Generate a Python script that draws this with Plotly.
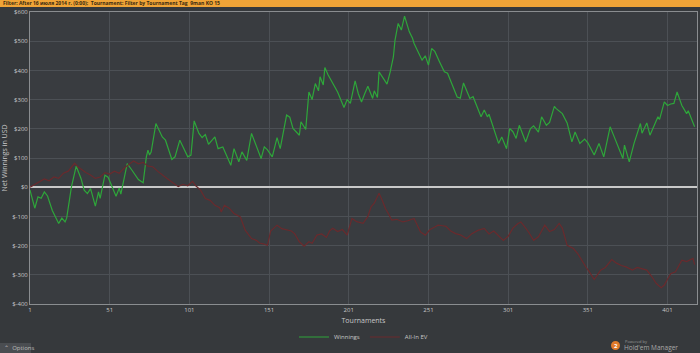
import plotly.graph_objects as go

# ---- data ----
win_t = [1, 4, 6, 8, 10, 12, 15, 19, 21, 23, 24, 27, 30, 33, 35, 37, 39, 42, 44, 45, 48, 50, 55, 57, 58,
         62, 65, 69, 72, 73, 74, 75, 76, 77, 80, 84, 86, 90, 92, 95, 98, 100, 102, 104, 107, 109, 111,
         113, 117, 119, 122, 127, 129, 132, 134, 137, 140, 143, 146, 148, 150, 153, 156, 158, 162, 164,
         166, 170, 171, 174, 176, 178, 180, 182, 183, 185, 186, 188, 194, 198, 200, 202, 205, 207, 209,
         211, 213, 216, 217, 219, 220, 223, 225, 227, 229, 230, 232, 234, 236, 239, 241, 242, 244, 247,
         249, 251, 253, 255, 258, 261, 263, 267, 269, 271, 273, 275, 277, 279, 281, 284, 286, 288, 289,
         295, 297, 300, 302, 304, 306, 308, 312, 315, 317, 320, 322, 325, 327, 330, 331, 335, 338, 341,
         343, 346, 349, 351, 355, 358, 361, 365, 367, 373, 374, 377, 380, 384, 385, 388, 390, 395, 396,
         399, 401, 403, 405, 407, 410, 413, 414, 418]
win_v = [-10, -72, -33, -38, -16, -30, -80, -124, -106, -119, -106, 1, 72, 30, -10, -22, -5, -65, -16, -38,
         41, 34, -31, -3, -24, 81, 58, 26, 15, 64, 104, 127, 110, 120, 218, 172, 161, 95, 104, 161, 127,
         104, 110, 227, 184, 170, 180, 147, 172, 132, 138, 75, 132, 87, 121, 92, 184, 144, 98, 138, 128,
         104, 170, 132, 247, 240, 201, 178, 224, 198, 326, 300, 355, 330, 378, 350, 410, 385, 326, 273,
         300, 287, 364, 320, 292, 320, 346, 304, 330, 307, 395, 370, 353, 395, 446, 503, 561, 538, 586,
         532, 510, 492, 470, 435, 450, 418, 475, 465, 429, 395, 390, 332, 309, 305, 357, 330, 304, 310,
         281, 241, 264, 241, 250, 150, 172, 132, 201, 190, 167, 212, 155, 201, 210, 189, 241, 212, 222,
         277, 270, 252, 220, 155, 189, 150, 165, 152, 110, 150, 104, 207, 180, 98, 144, 87, 150, 218,
         185, 220, 178, 241, 232, 292, 280, 285, 287, 326, 280, 252, 262, 207]

ev_t = [1, 4, 7, 10, 13, 16, 19, 22, 25, 27, 29, 31, 33, 36, 39, 42, 45, 48, 51, 54, 57, 60, 63, 66, 69,
        72, 75, 78, 81, 84, 87, 90, 94, 97, 100, 103, 105, 108, 111, 114, 117, 120, 121, 123, 126, 129,
        133, 136, 140, 143, 145, 148, 150, 152, 154, 156, 159, 162, 165, 167, 170, 173, 176, 178, 181,
        184, 187, 189, 191, 194, 197, 200, 203, 206, 210, 213, 215, 217, 220, 222, 224, 226, 228, 231,
        235, 238, 242, 244, 246, 249, 252, 255, 257, 260, 262, 265, 268, 271, 275, 278, 282, 286, 289,
        292, 295, 298, 301, 304, 307, 309, 312, 314, 317, 320, 322, 324, 327, 330, 333, 335, 338, 342,
        345, 347, 350, 352, 355, 357, 359, 362, 366, 369, 372, 375, 379, 382, 385, 388, 391, 394, 397,
        399, 401, 403, 406, 408, 410, 413, 415, 417, 418]
ev_v = [0, 10, 18, 28, 22, 35, 30, 48, 55, 70, 82, 70, 62, 50, 42, 30, 35, 50, 45, 55, 48, 65, 78, 90, 80,
        85, 72, 70, 55, 41, 30, 18, 2, 10, 5, 20, 5, -10, -39, -45, -62, -70, -85, -62, -72, -90, -102,
        -147, -176, -182, -191, -195, -199, -150, -140, -130, -142, -145, -150, -159, -187, -202, -187,
        -192, -164, -160, -172, -150, -141, -152, -145, -164, -107, -118, -124, -100, -67, -55, -21, -45,
        -73, -92, -113, -110, -119, -115, -107, -130, -153, -164, -145, -136, -130, -132, -134, -150,
        -159, -163, -176, -160, -148, -141, -160, -150, -165, -182, -168, -140, -125, -119, -140, -155,
        -182, -170, -150, -130, -152, -145, -124, -140, -199, -210, -230, -250, -275, -290, -316, -300,
        -284, -275, -248, -260, -268, -273, -284, -275, -280, -284, -305, -330, -344, -335, -315, -296,
        -290, -270, -250, -255, -248, -244, -265]

x_ticks = [1, 51, 101, 151, 201, 251, 301, 351, 401]
y_ticks = [600, 500, 400, 300, 200, 100, 0, -100, -200, -300, -400]
y_labels = ["$" + str(v) for v in y_ticks]

filter_text = "Filter: After 16 июля 2014 г. (0:00);  Tournament: Filter by Tournament Tag  9man KO 15"

# ---- figure ----
FONT = "Open Sans, DejaVu Sans, sans-serif"
fig = go.Figure()
fig.add_trace(go.Scatter(x=win_t, y=win_v, mode="lines", name="Winnings",
                         line=dict(color="#2ea63a", width=1.2)))
fig.add_trace(go.Scatter(x=ev_t, y=ev_v, mode="lines", name="All-In EV",
                         line=dict(color="#6a2a2d", width=1.2)))

L, R, T, B = 30, 3, 12, 49
W, H = 700, 353
pw, ph = W - L - R, H - T - B


def px_y(py):
    return (H - B - py) / ph


def px_x(px):
    return (px - L) / pw


fig.update_layout(
    width=W, height=H,
    margin=dict(l=L, r=R, t=T, b=B, autoexpand=False),
    paper_bgcolor="#36393c",
    plot_bgcolor="#393c40",
    font=dict(family=FONT, size=7, color="#c8c8c8"),
    showlegend=True,
    legend=dict(orientation="h", x=0.5, xanchor="center", y=px_y(337), yanchor="middle",
                font=dict(size=6, color="#c8c8c8"), bgcolor="rgba(0,0,0,0)",
                itemwidth=30, tracegroupgap=0),
    xaxis=dict(range=[1, 419.5], tickvals=x_ticks, ticktext=[str(v) for v in x_ticks],
               automargin=False,
               showgrid=True, gridcolor="#4c5055", gridwidth=1, zeroline=False,
               showline=True, linecolor="#8a8d90", linewidth=1, mirror=True,
               ticks="", tickfont=dict(size=6, color="#c8c8c8"),
               title=dict(text="Tournaments", font=dict(size=7, color="#c8c8c8"), standoff=4)),
    yaxis=dict(range=[-400, 600], tickvals=y_ticks, ticktext=y_labels,
               automargin=False,
               showgrid=True, gridcolor="#4c5055", gridwidth=1,
               zeroline=True, zerolinecolor="#c9c9c9", zerolinewidth=2,
               showline=True, linecolor="#8a8d90", linewidth=1, mirror=True,
               ticks="", tickfont=dict(size=6, color="#c8c8c8"),
               title=dict(text="Net Winnings in USD", font=dict(size=7, color="#c8c8c8"), standoff=6)),
)

# top orange filter bar
fig.add_shape(type="rect", xref="paper", yref="paper",
              x0=px_x(0), x1=px_x(W), y0=px_y(7), y1=px_y(0),
              fillcolor="#f0a437", line=dict(width=0), layer="above")
fig.add_annotation(xref="paper", yref="paper", x=px_x(1), y=px_y(3.5),
                   xanchor="left", yanchor="middle", showarrow=False,
                   text="<b>" + filter_text + "</b>", font=dict(size=5, color="#3a2a10", family=FONT))

# options button
fig.add_shape(type="rect", xref="paper", yref="paper",
              x0=px_x(0), x1=px_x(31), y0=px_y(353), y1=px_y(343),
              fillcolor="#4a4d51", line=dict(width=0))
fig.add_annotation(xref="paper", yref="paper", x=px_x(1.5), y=px_y(348),
                   xanchor="left", yanchor="middle", showarrow=False,
                   text="⌃  Options", font=dict(size=6, color="#bbbbbb", family=FONT))

# HM2 logo
fig.add_shape(type="circle", xref="paper", yref="paper",
              x0=px_x(611), x1=px_x(620), y0=px_y(350), y1=px_y(341),
              fillcolor="#e07a2a", line=dict(width=0), layer="above")
fig.add_annotation(xref="paper", yref="paper", x=px_x(615.5), y=px_y(345.5),
                   xanchor="center", yanchor="middle", showarrow=False,
                   text="<b>2</b>", font=dict(size=6, color="#ffffff", family=FONT))
fig.add_annotation(xref="paper", yref="paper", x=px_x(623), y=px_y(341.5),
                   xanchor="left", yanchor="middle", showarrow=False,
                   text="Powered by", font=dict(size=4, color="#9a9a9a", family=FONT))
fig.add_annotation(xref="paper", yref="paper", x=px_x(622), y=px_y(347),
                   xanchor="left", yanchor="middle", showarrow=False,
                   text="Hold'em Manager", font=dict(size=6.5, color="#a8a8a8", family=FONT))

fig.write_html("out.html")
